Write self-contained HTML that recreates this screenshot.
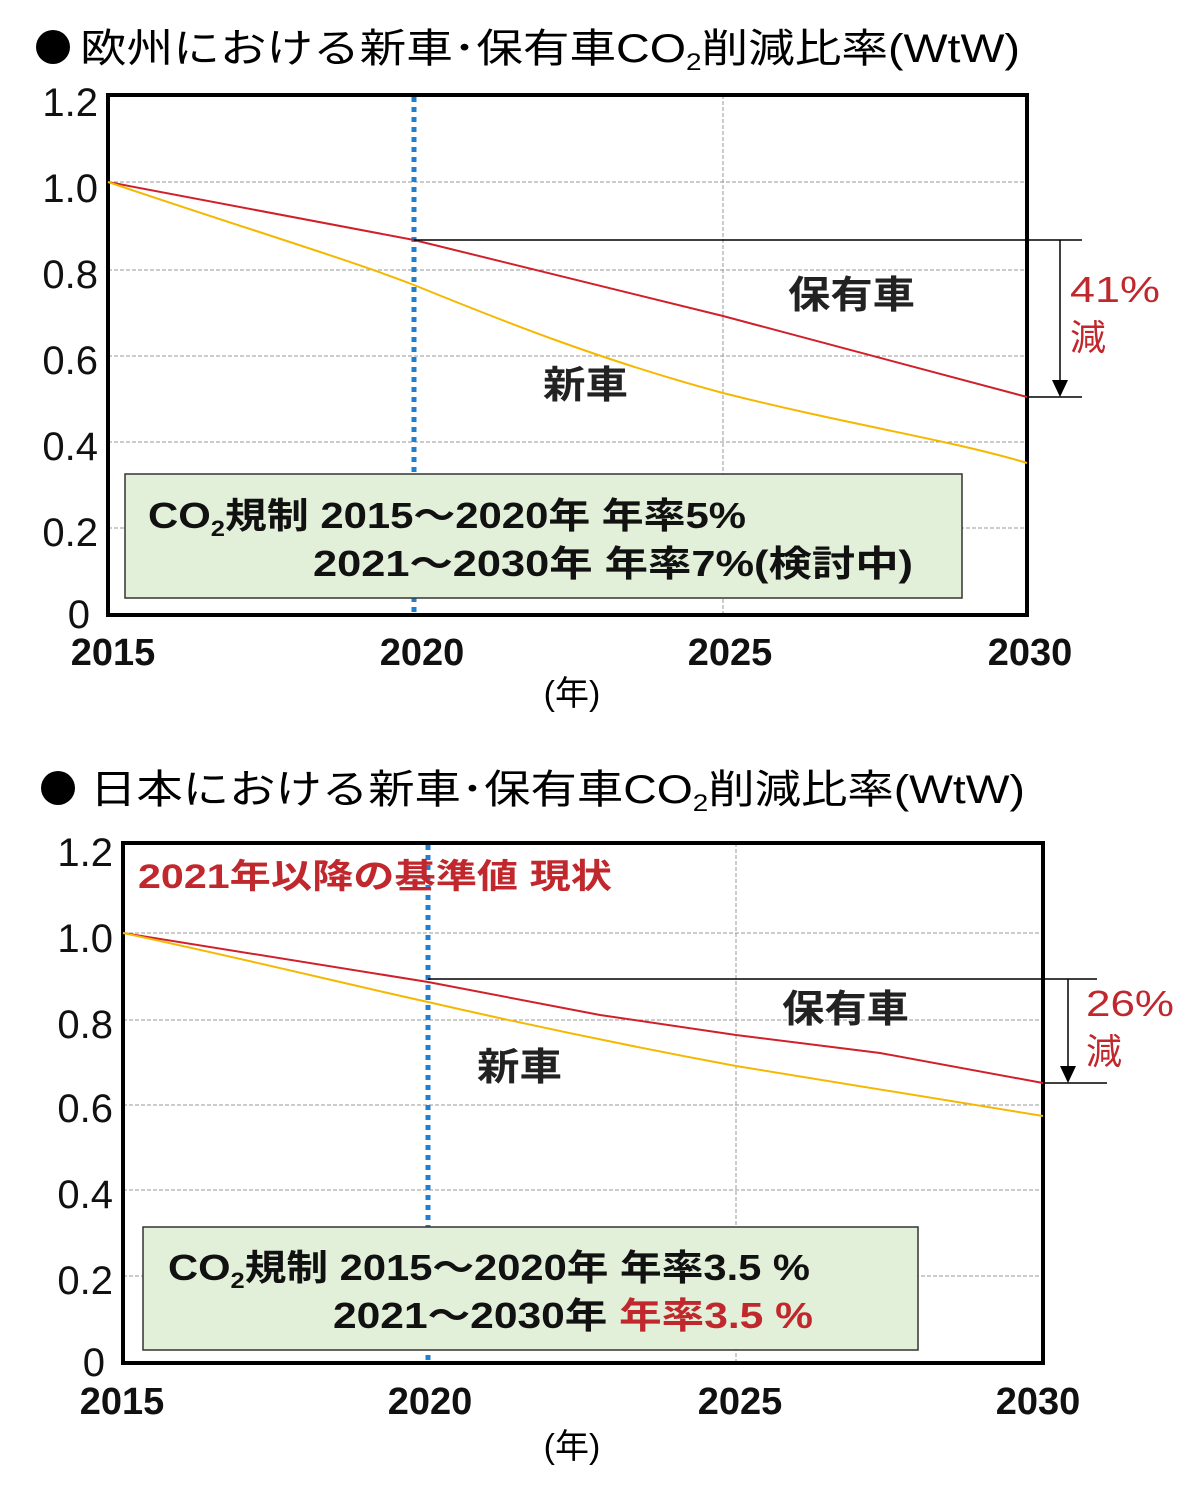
<!DOCTYPE html>
<html><head><meta charset="utf-8"><style>
body{margin:0;background:#fff;}
svg{display:block;font-family:"Liberation Sans","Noto Sans CJK JP",sans-serif;}
.t{font-size:40px;fill:#000;}
.yl{font-size:40px;fill:#111;}
.xl{font-size:38px;font-weight:bold;fill:#111;}
.b{font-size:36px;font-weight:bold;fill:#111;}
.lab{font-size:38px;font-weight:bold;fill:#222;}
.grid{stroke:#999;stroke-width:1;stroke-dasharray:4,2;}
</style></head><body>
<svg width="1200" height="1494" viewBox="0 0 1200 1494">
<!-- TOP -->
<circle cx="53" cy="47" r="17" fill="#000"/>
<text class="t" x="80" y="62" textLength="940" lengthAdjust="spacingAndGlyphs">欧州における新車･保有車CO<tspan font-size="24" dy="8">2</tspan><tspan dy="-8">削減比率(WtW)</tspan></text>
<g class="grid">
<line x1="108" y1="182" x2="1027" y2="182"/><line x1="108" y1="270" x2="1027" y2="270"/>
<line x1="108" y1="356" x2="1027" y2="356"/><line x1="108" y1="442" x2="1027" y2="442"/>
<line x1="108" y1="528" x2="1027" y2="528"/><line x1="723" y1="95" x2="723" y2="615"/>
</g>
<rect x="108" y="95" width="919" height="520" fill="none" stroke="#000" stroke-width="4"/>
<line x1="414" y1="97" x2="414" y2="613" stroke="#1f7fd0" stroke-width="5" stroke-dasharray="5,5"/>
<polyline points="108,182 414,240 723,316 1027,397" fill="none" stroke="#d0202a" stroke-width="2"/>
<path d="M108,182 C250,230 350,260 414,285 C500,320 600,360 723,393 C850,425 950,440 1027,463" fill="none" stroke="#f5b800" stroke-width="2"/>
<line x1="414" y1="240" x2="1082" y2="240" stroke="#000" stroke-width="1.5"/>
<line x1="1027" y1="397" x2="1082" y2="397" stroke="#000" stroke-width="1.5"/>
<line x1="1060" y1="240" x2="1060" y2="385" stroke="#000" stroke-width="1.5"/>
<polygon points="1052,380 1068,380 1060,397" fill="#000"/>
<text x="1070" y="302" font-size="36" fill="#c0282d" textLength="90" lengthAdjust="spacingAndGlyphs">41%</text>
<text x="1070" y="350" font-size="36" fill="#c0282d">減</text>
<text class="lab" x="788" y="308" textLength="127" lengthAdjust="spacingAndGlyphs">保有車</text>
<text class="lab" x="543" y="398" textLength="85" lengthAdjust="spacingAndGlyphs">新車</text>
<rect x="125" y="474" width="837" height="124" fill="#e2efd9" stroke="#333" stroke-width="1.5"/>
<text class="b" x="148" y="528" textLength="598" lengthAdjust="spacingAndGlyphs">CO<tspan font-size="22" dy="8">2</tspan><tspan dy="-8">規制 2015～2020年 年率5%</tspan></text>
<text class="b" x="313" y="576" textLength="600" lengthAdjust="spacingAndGlyphs">2021～2030年 年率7%(検討中)</text>
<g class="yl" text-anchor="end">
<text x="98" y="116">1.2</text><text x="98" y="202">1.0</text><text x="98" y="288">0.8</text>
<text x="98" y="374">0.6</text><text x="98" y="460">0.4</text><text x="98" y="546">0.2</text><text x="90" y="628">0</text>
</g>
<g class="xl" text-anchor="middle">
<text x="113" y="665">2015</text><text x="422" y="665">2020</text><text x="730" y="665">2025</text><text x="1030" y="665">2030</text>
</g>
<text x="572" y="705" font-size="34" text-anchor="middle">(年)</text>

<!-- BOTTOM -->
<circle cx="58" cy="788" r="17" fill="#000"/>
<text class="t" x="90" y="803" textLength="935" lengthAdjust="spacingAndGlyphs">日本における新車･保有車CO<tspan font-size="24" dy="8">2</tspan><tspan dy="-8">削減比率(WtW)</tspan></text>
<g class="grid">
<line x1="123" y1="933" x2="1043" y2="933"/><line x1="123" y1="1020" x2="1043" y2="1020"/>
<line x1="123" y1="1105" x2="1043" y2="1105"/><line x1="123" y1="1190" x2="1043" y2="1190"/>
<line x1="123" y1="1276" x2="1043" y2="1276"/><line x1="736" y1="843" x2="736" y2="1363"/>
</g>
<rect x="123" y="843" width="920" height="520" fill="none" stroke="#000" stroke-width="4"/>
<line x1="428" y1="845" x2="428" y2="1361" stroke="#1f7fd0" stroke-width="5" stroke-dasharray="5,5"/>
<polyline points="123,933 428,982 600,1015 736,1035 880,1053 1043,1083" fill="none" stroke="#d0202a" stroke-width="2"/>
<path d="M123,933 C250,960 350,985 428,1002 C550,1030 650,1050 736,1066 C850,1085 950,1100 1043,1116" fill="none" stroke="#f5b800" stroke-width="2"/>
<line x1="428" y1="979" x2="1097" y2="979" stroke="#000" stroke-width="1.5"/>
<line x1="1043" y1="1083" x2="1107" y2="1083" stroke="#000" stroke-width="1.5"/>
<line x1="1068" y1="979" x2="1068" y2="1070" stroke="#000" stroke-width="1.5"/>
<polygon points="1060,1066 1076,1066 1068,1083" fill="#000"/>
<text x="1086" y="1016" font-size="36" fill="#c0282d" textLength="88" lengthAdjust="spacingAndGlyphs">26%</text>
<text x="1086" y="1064" font-size="36" fill="#c0282d">減</text>
<text x="138" y="888" font-size="34" font-weight="bold" fill="#c0282d" textLength="474" lengthAdjust="spacingAndGlyphs">2021年以降の基準値 現状</text>
<text class="lab" x="782" y="1022" textLength="127" lengthAdjust="spacingAndGlyphs">保有車</text>
<text class="lab" x="477" y="1080" textLength="85" lengthAdjust="spacingAndGlyphs">新車</text>
<rect x="143" y="1227" width="775" height="123" fill="#e2efd9" stroke="#333" stroke-width="1.5"/>
<text class="b" x="168" y="1280" textLength="642" lengthAdjust="spacingAndGlyphs">CO<tspan font-size="22" dy="8">2</tspan><tspan dy="-8">規制 2015～2020年 年率3.5 %</tspan></text>
<text class="b" x="333" y="1328" textLength="480" lengthAdjust="spacingAndGlyphs">2021～2030年 <tspan fill="#c0282d">年率3.5 %</tspan></text>
<g class="yl" text-anchor="end">
<text x="113" y="866">1.2</text><text x="113" y="952">1.0</text><text x="113" y="1038">0.8</text>
<text x="113" y="1122">0.6</text><text x="113" y="1208">0.4</text><text x="113" y="1294">0.2</text><text x="105" y="1376">0</text>
</g>
<g class="xl" text-anchor="middle">
<text x="122" y="1414">2015</text><text x="430" y="1414">2020</text><text x="740" y="1414">2025</text><text x="1038" y="1414">2030</text>
</g>
<text x="572" y="1458" font-size="34" text-anchor="middle">(年)</text>
</svg>
</body></html>
